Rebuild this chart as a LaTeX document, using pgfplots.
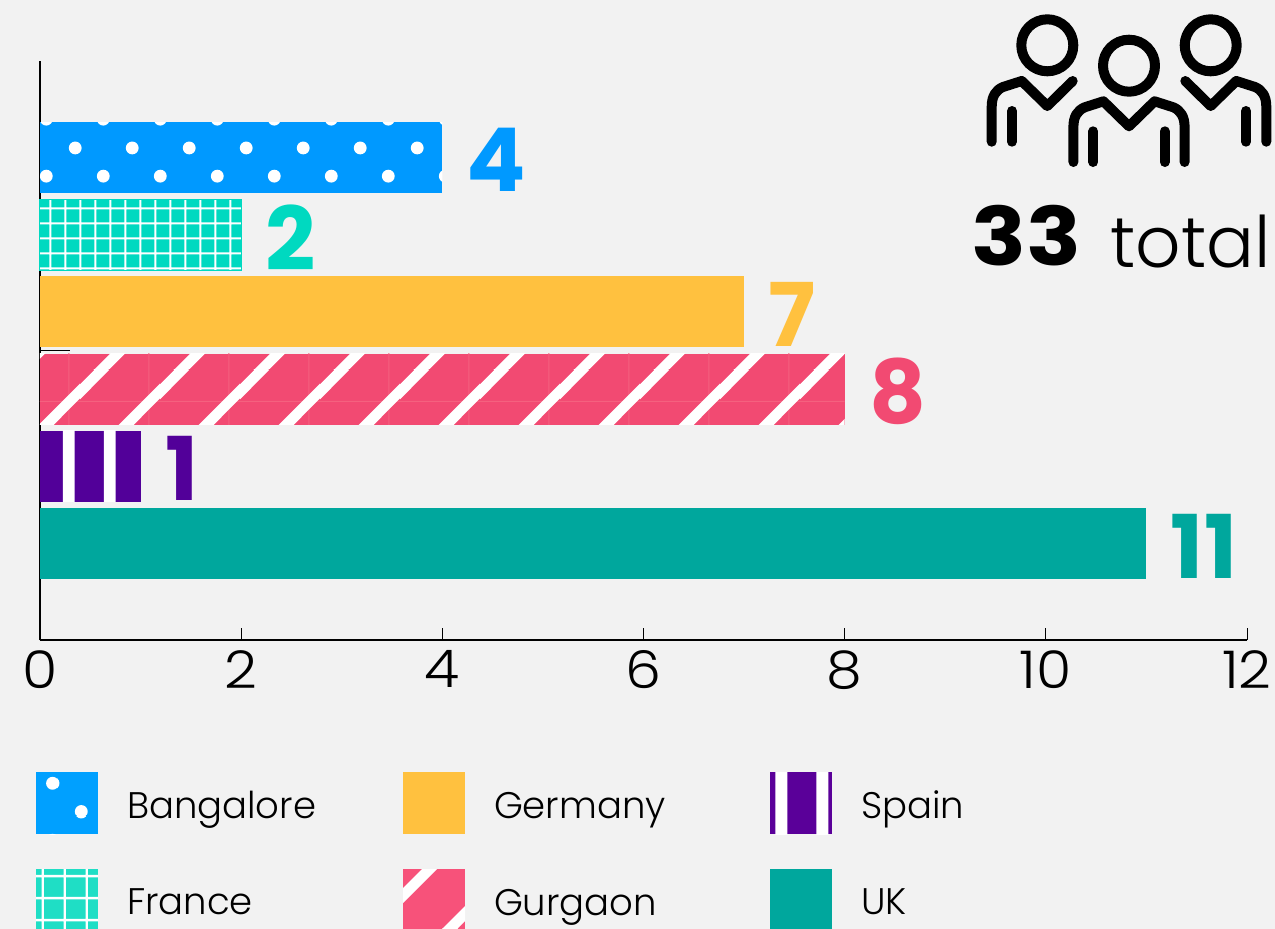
\documentclass[border=0pt]{standalone}
\usepackage{fontspec}
\setmainfont{Poppins}[UprightFont=* Light,BoldFont=* Bold]
\usepackage{pgfplots}
\pgfplotsset{compat=1.18}
\usetikzlibrary{patterns}
\definecolor{bgc}{HTML}{F2F2F2}
\definecolor{cBan}{HTML}{0099FF}
\definecolor{cFra}{HTML}{00D9C0}
\definecolor{cGer}{HTML}{FFC13F}
\definecolor{cGur}{HTML}{F24A72}
\definecolor{cSpa}{HTML}{520099}
\definecolor{cUK}{HTML}{00A79D}
\definecolor{cSeam}{HTML}{F5617F}
\definecolor{lBanC}{HTML}{00A0FF}
\definecolor{lFraC}{HTML}{1FDEC5}
\definecolor{lGurC}{HTML}{F7527A}
\definecolor{lSpaC}{HTML}{5A0099}
\newcommand{\dotat}[2]{\pgfpathcircle{\pgfpoint{#1pt}{#2pt}}{6.5pt}}
% name, phase x, phase y : staggered dots
\newcommand{\decldots}[3]{\pgfdeclarepatternformonly{#1}{\pgfpointorigin}{\pgfqpoint{57pt}{57pt}}{\pgfqpoint{57pt}{57pt}}{%
 \dotat{#2}{#3}\dotat{#2+57}{#3}\dotat{#2}{#3+57}\dotat{#2+57}{#3+57}\dotat{#2-57}{#3}\dotat{#2}{#3-57}\dotat{#2-57}{#3-57}\dotat{#2+57}{#3-57}\dotat{#2-57}{#3+57}%
 \dotat{#2+28.5}{#3+28.5}\dotat{#2-28.5}{#3+28.5}\dotat{#2+28.5}{#3-28.5}\dotat{#2-28.5}{#3-28.5}%
 \pgfusepath{fill}}}
% name, period, line width, phase x, phase y : grid
\newcommand{\declgrid}[5]{\pgfdeclarepatternformonly{#1}{\pgfpointorigin}{\pgfqpoint{#2pt}{#2pt}}{\pgfqpoint{#2pt}{#2pt}}{%
 \pgfpathrectangle{\pgfpoint{#4pt}{-2pt}}{\pgfpoint{#3pt}{#2pt+4pt}}%
 \pgfpathrectangle{\pgfpoint{-2pt}{#5pt}}{\pgfpoint{#2pt+4pt}{#3pt}}%
 \pgfusepath{fill}}}
% name, width, phase : diagonal stripes, period 80
\newcommand{\band}[2]{\pgfpathmoveto{\pgfpoint{#1-2pt}{-2pt}}\pgfpathlineto{\pgfpoint{#1+#2-2pt}{-2pt}}\pgfpathlineto{\pgfpoint{#1+#2+82pt}{82pt}}\pgfpathlineto{\pgfpoint{#1+82pt}{82pt}}\pgfpathclose}
\newcommand{\declstripes}[3]{\pgfdeclarepatternformonly{#1}{\pgfpointorigin}{\pgfqpoint{80pt}{80pt}}{\pgfqpoint{80pt}{80pt}}{%
 \band{#3pt}{#2pt}\band{#3pt-80pt}{#2pt}\band{#3pt+80pt}{#2pt}\pgfusepath{fill}}}
% name, period, width, phase : vertical stripes
\newcommand{\declvert}[4]{\pgfdeclarepatternformonly{#1}{\pgfpointorigin}{\pgfqpoint{#2pt}{#2pt}}{\pgfqpoint{#2pt}{#2pt}}{%
 \pgfpathrectangle{\pgfpoint{#4pt}{-2pt}}{\pgfpoint{#3pt}{#2pt+4pt}}%
 \pgfpathrectangle{\pgfpoint{#4pt-#2pt}{-2pt}}{\pgfpoint{#3pt}{#2pt+4pt}}\pgfusepath{fill}}}
\decldots{pBan}{47}{12}
\declgrid{pFra}{14.5}{2}{5.5}{7.8}
\declgrid{pSeam}{80}{1}{69.2}{47.5}
\declstripes{pGur}{15}{15}
\declvert{pSpa}{41}{12}{22.3}
\decldots{lBan}{53}{32}
\declgrid{lFra}{22.3}{2.5}{19.95}{8.75}
\declstripes{lGur}{15}{42}
\declvert{lSpa}{41}{11.5}{38}
\newcommand{\lsq}[2]{\fill[#1] (0pt,-31pt) rectangle (62pt,31pt);\ifx\relax#2\relax\else\fill[pattern=#2,pattern color=white] (0pt,-31pt) rectangle (62pt,31pt);\fi}
\newcommand{\lt}[1]{\hspace{29pt}\makebox[276pt][l]{\raisebox{-5.5pt}{#1}}}
\begin{document}
\begin{tikzpicture}
\path[use as bounding box,fill=bgc] (0pt,-929pt) rectangle (1275pt,0pt);
\begin{axis}[
 at={(40pt,-640pt)},anchor=south west,
 scale only axis,width=1207pt,height=579pt,
 xmin=0,xmax=12,ymin=-1.25,ymax=6.25,
 axis lines=left,axis line style={-,line width=1.2pt,black},
 xtick={0,2,...,12},ytick={2.5},yticklabels={},
 tick align=inside,
 major tick length=12pt,
 tick style={black,line width=1pt},
 y tick style={/pgfplots/major tick length=30pt,xshift=30pt,line width=1.4pt},
 xticklabel={\scalebox{1.1}[1]{\pgfmathprintnumber{\tick}}},
 xticklabel style={font=\fontsize{52}{52}\selectfont,yshift=-7pt},
 /pgf/number format/assume math mode=true,
 xbar,bar width=71pt,bar shift=0pt,
 nodes near coords style={font=\fontsize{88}{88}\selectfont\bfseries,anchor=west,xshift=21pt,yshift=-2.5pt},
 legend columns=2,transpose legend,
 legend cell align=left,
 legend style={at={(-0.0033,-0.228)},anchor=north west,draw=none,fill=none,inner sep=0pt,outer sep=0pt,
  font=\fontsize{37}{37}\selectfont,
  nodes={inner sep=0pt,outer sep=0pt},row sep=35pt},
 clip=false,
]
\addplot[draw=none,fill=cBan,nodes near coords,every node near coord/.append style={text=cBan},
 legend image code/.code={\lsq{lBanC}{lBan}}] coordinates {(4,5)};
\addlegendentry{\lt{Bangalore}}
\addplot[forget plot,draw=none,pattern=pBan,pattern color=white] coordinates {(4,5)};
\addplot[draw=none,fill=cFra,nodes near coords,every node near coord/.append style={text=cFra},
 legend image code/.code={\lsq{lFraC}{lFra}}] coordinates {(2,4)};
\addlegendentry{\lt{France}}
\addplot[forget plot,draw=none,pattern=pFra,pattern color=white] coordinates {(2,4)};
\addplot[forget plot,draw=cFra,line width=1pt,fill=none] coordinates {(2,4)};
\addplot[draw=none,fill=cGer,nodes near coords,every node near coord/.append style={text=cGer},
 legend image code/.code={\lsq{cGer}{}}] coordinates {(7,3)};
\addlegendentry{\lt{Germany}}
\addplot[draw=none,fill=cGur,nodes near coords,every node near coord/.append style={text=cGur},
 legend image code/.code={\lsq{lGurC}{lGur}}] coordinates {(8,2)};
\addlegendentry{\lt{Gurgaon}}
\addplot[forget plot,draw=none,pattern=pSeam,pattern color=cSeam] coordinates {(8,2)};
\addplot[forget plot,draw=none,pattern=pGur,pattern color=white] coordinates {(8,2)};
\addplot[draw=none,fill=cSpa,nodes near coords,every node near coord/.append style={text=cSpa},
 legend image code/.code={\lsq{lSpaC}{lSpa}}] coordinates {(1,1)};
\addlegendentry{\lt{Spain}}
\addplot[forget plot,draw=none,pattern=pSpa,pattern color=white] coordinates {(1,1)};
\addplot[draw=none,fill=cUK,nodes near coords,every node near coord/.append style={text=cUK},
 legend image code/.code={\lsq{cUK}{}}] coordinates {(11,0)};
\addlegendentry{\lt{UK}}
\end{axis}
\begin{scope}[x=1pt,y=-1pt,line width=10pt,line cap=round,line join=round,black]
 % left person
 \draw (1047.3,45.3) circle[radius=26pt];
 \draw (991.7,141.7) -- (991.7,106.7) .. controls (991.7,96) and (996,90) .. (1003,87) -- (1021.7,81) -- (1047.3,106) -- (1072.7,81);
 \draw (1012,111) -- (1012,141.7);
 % right person
 \draw (1210.7,45.3) circle[radius=26pt];
 \draw (1266.3,141.7) -- (1266.3,106.7) .. controls (1266.3,96) and (1262,90) .. (1255,87) -- (1236.3,81) -- (1210.7,106) -- (1185.3,81);
 \draw (1246,111) -- (1246,141.7);
 % middle person
 \draw (1129,65.7) circle[radius=26pt];
 \draw (1073.4,162) -- (1073.4,127) .. controls (1073.4,116.3) and (1077.7,110.3) .. (1084.7,107.3) -- (1103.4,101.3) -- (1129,126.3) -- (1154.6,101.3) -- (1173.3,107.3) .. controls (1180.3,110.3) and (1184.6,116.3) .. (1184.6,127) -- (1184.6,162);
 \draw (1093.3,131.3) -- (1093.3,162);
 \draw (1164.7,131.3) -- (1164.7,162);
 \node[anchor=base west,inner sep=0pt,font=\fontsize{85}{85}\selectfont\bfseries] at (966.5,265) {\scalebox{1.07}[0.95]{33}};
 \node[anchor=base east,inner sep=0pt,font=\fontsize{71}{71}\selectfont] at (1276,267) {total};
\end{scope}
\end{tikzpicture}
\end{document}
